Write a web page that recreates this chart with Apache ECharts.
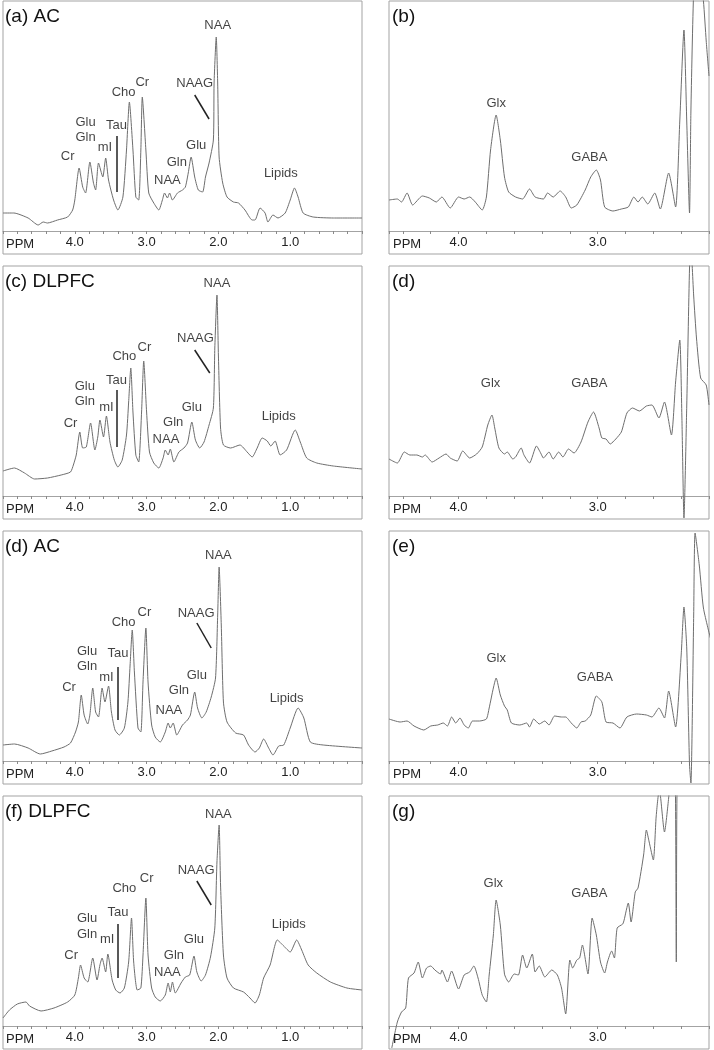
<!DOCTYPE html>
<html>
<head>
<meta charset="utf-8">
<script src="https://cdn.jsdelivr.net/npm/echarts@6/dist/echarts.min.js"></script>
<style>
  html, body { margin: 0; padding: 0; background: #fff; }
  #chart { width: 714px; height: 1050px; }
</style>
</head>
<body>
<div id="chart"></div>
<script>
// spectra: [ppm, intensity]
const specA = [[5.00,18],[4.85,18],[4.65,13],[4.51,6],[4.44,9],[4.38,8],[4.24,11],[4.10,14],[4.03,21],[4.00,31],[3.94,63],[3.89,44],[3.85,38],[3.79,69],[3.74,48],[3.71,41],[3.67,68],[3.61,54],[3.57,73],[3.53,51],[3.46,31],[3.40,21],[3.33,34],[3.28,81],[3.24,129],[3.19,81],[3.15,34],[3.11,31],[3.08,81],[3.06,134],[3.01,81],[2.97,38],[2.90,28],[2.83,21],[2.78,31],[2.75,38],[2.71,33],[2.68,38],[2.64,31],[2.57,38],[2.50,41],[2.46,44],[2.42,58],[2.38,74],[2.33,54],[2.28,41],[2.22,39],[2.18,54],[2.13,68],[2.07,91],[2.06,148],[2.03,194],[2.01,148],[1.99,74],[1.94,48],[1.88,34],[1.79,29],[1.72,28],[1.63,21],[1.53,11],[1.49,11],[1.42,23],[1.35,18],[1.31,9],[1.24,16],[1.17,13],[1.07,18],[1.00,31],[0.94,43],[0.89,34],[0.82,18],[0.68,14],[0.40,13],[0.00,13]];

const specB = [[4.50,31],[4.44,32],[4.41,29],[4.37,38],[4.33,26],[4.26,35],[4.21,33],[4.16,29],[4.12,34],[4.06,23],[4.00,34],[3.96,32],[3.92,34],[3.88,29],[3.83,21],[3.80,34],[3.77,81],[3.73,116],[3.70,91],[3.67,54],[3.64,39],[3.59,34],[3.54,32],[3.49,42],[3.45,34],[3.39,32],[3.36,38],[3.32,34],[3.27,40],[3.23,34],[3.19,23],[3.15,26],[3.09,41],[3.05,54],[3.01,61],[2.98,51],[2.95,24],[2.89,20],[2.83,22],[2.78,24],[2.74,34],[2.71,29],[2.68,34],[2.64,27],[2.59,38],[2.55,22],[2.49,58],[2.44,24],[2.41,110],[2.38,201],[2.36,110],[2.34,18],[2.33,120],[2.31,240],[2.29,262],[2.26,250],[2.24,230],[2.22,190],[2.20,155]];

const specC = [[5.00,25],[4.84,28],[4.70,23],[4.56,17],[4.38,18],[4.19,21],[4.06,24],[4.02,31],[3.98,41],[3.93,64],[3.89,48],[3.84,49],[3.78,73],[3.72,46],[3.68,59],[3.65,76],[3.60,59],[3.56,80],[3.51,54],[3.45,36],[3.40,29],[3.34,36],[3.28,61],[3.25,94],[3.22,128],[3.19,84],[3.15,41],[3.11,34],[3.07,84],[3.04,135],[3.00,84],[2.96,44],[2.90,33],[2.83,28],[2.77,38],[2.74,46],[2.70,41],[2.67,47],[2.62,34],[2.55,44],[2.48,48],[2.43,53],[2.37,74],[2.32,56],[2.26,48],[2.20,54],[2.13,71],[2.07,88],[2.05,148],[2.02,201],[2.00,141],[1.97,68],[1.93,51],[1.83,48],[1.70,51],[1.60,44],[1.53,39],[1.46,48],[1.39,58],[1.32,55],[1.27,50],[1.21,55],[1.14,41],[1.05,46],[0.93,66],[0.86,54],[0.77,38],[0.63,33],[0.40,30],[0.00,27]];

const specDR = [[4.50,37],[4.44,33],[4.39,44],[4.35,41],[4.30,41],[4.26,39],[4.24,41],[4.19,34],[4.14,38],[4.09,42],[4.06,38],[4.01,35],[3.97,45],[3.92,38],[3.87,42],[3.83,49],[3.79,71],[3.76,81],[3.74,68],[3.71,48],[3.67,42],[3.65,44],[3.61,37],[3.59,39],[3.55,48],[3.53,41],[3.49,33],[3.44,50],[3.41,43],[3.39,38],[3.35,44],[3.32,37],[3.28,44],[3.25,39],[3.21,47],[3.17,43],[3.12,54],[3.07,74],[3.03,84],[2.99,68],[2.97,58],[2.94,57],[2.91,52],[2.87,57],[2.83,64],[2.79,83],[2.75,88],[2.70,85],[2.65,90],[2.61,91],[2.56,78],[2.52,94],[2.47,61],[2.44,114],[2.41,156],[2.395,80],[2.38,-22],[2.36,90],[2.34,228],[2.33,248],[2.31,200],[2.29,158],[2.26,118],[2.22,111],[2.20,91]];

const specD = [[5.00,16],[4.84,17],[4.65,13],[4.48,7],[4.32,10],[4.15,14],[4.06,18],[3.99,29],[3.95,39],[3.91,66],[3.87,46],[3.82,37],[3.79,46],[3.75,73],[3.71,49],[3.67,44],[3.62,73],[3.58,59],[3.53,75],[3.49,49],[3.44,31],[3.38,26],[3.31,33],[3.26,59],[3.23,96],[3.20,131],[3.17,89],[3.12,33],[3.08,29],[3.05,79],[3.01,133],[2.98,79],[2.93,36],[2.88,24],[2.81,19],[2.74,29],[2.70,38],[2.67,33],[2.63,38],[2.58,26],[2.50,36],[2.43,41],[2.39,46],[2.33,69],[2.29,53],[2.23,43],[2.17,49],[2.10,64],[2.04,83],[2.01,146],[1.99,194],[1.96,136],[1.93,59],[1.88,39],[1.76,28],[1.65,26],[1.58,16],[1.49,9],[1.43,13],[1.37,22],[1.30,13],[1.24,6],[1.16,15],[1.09,16],[1.00,33],[0.89,53],[0.81,43],[0.72,19],[0.54,16],[0.00,13]];

const specE = [[4.50,42],[4.42,39],[4.37,40],[4.32,35],[4.25,31],[4.20,35],[4.15,36],[4.11,38],[4.08,35],[4.05,44],[4.02,38],[3.99,43],[3.96,36],[3.93,33],[3.90,40],[3.85,40],[3.80,42],[3.78,53],[3.75,73],[3.73,83],[3.70,66],[3.67,55],[3.65,51],[3.62,38],[3.56,36],[3.51,38],[3.49,34],[3.46,42],[3.42,37],[3.38,40],[3.35,36],[3.31,45],[3.26,44],[3.23,44],[3.19,38],[3.15,33],[3.12,39],[3.09,40],[3.05,46],[3.01,65],[2.97,59],[2.94,39],[2.89,38],[2.84,33],[2.79,44],[2.72,47],[2.65,46],[2.61,44],[2.56,53],[2.52,43],[2.49,70],[2.44,34],[2.40,106],[2.38,154],[2.36,113],[2.34,-4],[2.33,-22],[2.31,146],[2.30,228],[2.27,196],[2.24,153],[2.19,123]];

const specF = [[5.00,8],[4.91,16],[4.80,22],[4.68,24],[4.63,20],[4.47,15],[4.29,18],[4.10,24],[4.00,31],[3.95,48],[3.92,61],[3.87,48],[3.82,44],[3.75,68],[3.69,46],[3.65,61],[3.62,68],[3.57,54],[3.54,72],[3.48,46],[3.43,36],[3.37,33],[3.31,38],[3.25,64],[3.21,108],[3.18,64],[3.13,36],[3.08,38],[3.05,71],[3.01,128],[2.98,71],[2.93,38],[2.88,29],[2.81,25],[2.74,31],[2.70,43],[2.67,34],[2.64,44],[2.60,33],[2.52,43],[2.46,49],[2.40,51],[2.34,70],[2.30,54],[2.24,45],[2.18,51],[2.11,69],[2.05,98],[2.02,164],[1.99,201],[1.97,141],[1.93,71],[1.88,48],[1.79,38],[1.65,34],[1.56,28],[1.49,23],[1.43,31],[1.37,48],[1.28,61],[1.18,86],[1.09,80],[1.00,74],[0.91,86],[0.84,76],[0.75,61],[0.63,53],[0.44,44],[0.21,38],[0.00,36]];

const specG = [[4.48,-22],[4.44,4],[4.41,14],[4.38,18],[4.36,48],[4.32,53],[4.29,64],[4.26,48],[4.23,58],[4.20,60],[4.17,56],[4.13,52],[4.12,56],[4.08,44],[4.05,55],[4.00,37],[3.96,51],[3.92,54],[3.89,60],[3.86,48],[3.83,31],[3.80,24],[3.78,51],[3.75,91],[3.73,126],[3.70,101],[3.67,52],[3.64,44],[3.60,52],[3.57,51],[3.54,71],[3.51,58],[3.47,72],[3.45,54],[3.42,60],[3.38,49],[3.33,56],[3.29,51],[3.26,38],[3.23,12],[3.20,66],[3.18,58],[3.15,66],[3.13,68],[3.11,81],[3.07,52],[3.04,108],[3.01,91],[2.98,64],[2.95,53],[2.93,64],[2.90,75],[2.88,68],[2.86,98],[2.82,102],[2.81,106],[2.78,123],[2.76,104],[2.73,134],[2.71,138],[2.67,171],[2.65,196],[2.63,184],[2.60,166],[2.58,209],[2.56,233],[2.55,231],[2.52,194],[2.49,228],[2.47,260],[2.445,260],[2.435,64],[2.425,260],[2.20,260]];

// peak labels: [ppm, height, text]
const notesA = [[2.01,206,'NAA'],[2.33,148,'NAAG'],[3.06,149,'Cr'],[3.32,139,'Cho'],[3.42,106,'Tau'],[3.85,109,'Glu'],[3.85,94,'Gln'],[3.58,84,'mI'],[4.10,75,'Cr'],[2.71,51,'NAA'],[2.58,69,'Gln'],[2.31,86,'Glu'],[1.13,58,'Lipids']];
const notesC = [[2.02,213,'NAA'],[2.32,158,'NAAG'],[3.03,149,'Cr'],[3.31,140,'Cho'],[3.42,116,'Tau'],[3.86,110,'Glu'],[3.86,95,'Gln'],[3.56,89,'mI'],[4.06,73,'Cr'],[2.73,57,'NAA'],[2.63,74,'Gln'],[2.37,89,'Glu'],[1.16,80,'Lipids']];
const notesD = [[2.00,206,'NAA'],[2.31,148,'NAAG'],[3.03,149,'Cr'],[3.32,139,'Cho'],[3.40,108,'Tau'],[3.83,110,'Glu'],[3.83,95,'Gln'],[3.56,84,'mI'],[4.08,74,'Cr'],[2.69,51,'NAA'],[2.55,71,'Gln'],[2.30,86,'Glu'],[1.05,63,'Lipids']];
const notesF = [[2.00,212,'NAA'],[2.31,156,'NAAG'],[3.00,148,'Cr'],[3.31,138,'Cho'],[3.40,114,'Tau'],[3.83,108,'Glu'],[3.83,92,'Gln'],[3.55,87,'mI'],[4.05,71,'Cr'],[2.71,54,'NAA'],[2.62,71,'Gln'],[2.34,87,'Glu'],[1.02,102,'Lipids']];
const notesB = [[3.73,128,'Glx'],[3.06,74,'GABA']];
const notesDR = [[3.77,113,'Glx'],[3.06,113,'GABA']];
const notesE = [[3.73,103,'Glx'],[3.02,84,'GABA']];
const notesG = [[3.75,143,'Glx'],[3.06,133,'GABA']];

// pointer lines (NAAG slash, Tau bar)
const linesA = [[[2.33,136],[2.13,112]],[[3.42,95],[3.42,39]]];
const linesC = [[[2.33,146],[2.12,123]],[[3.42,106],[3.42,49]]];
const linesD = [[[2.30,138],[2.10,113]],[[3.40,94],[3.40,41]]];
const linesF = [[[2.30,145],[2.10,121]],[[3.40,102],[3.40,48]]];

const panels = [
  { title: '(a) AC',    side: 'L', row: 0, spec: specA,  notes: notesA,  lines: linesA },
  { title: '(b)',       side: 'R', row: 0, spec: specB,  notes: notesB,  lines: [] },
  { title: '(c) DLPFC', side: 'L', row: 1, spec: specC,  notes: notesC,  lines: linesC },
  { title: '(d)',       side: 'R', row: 1, spec: specDR, notes: notesDR, lines: [] },
  { title: '(d) AC',    side: 'L', row: 2, spec: specD,  notes: notesD,  lines: linesD },
  { title: '(e)',       side: 'R', row: 2, spec: specE,  notes: notesE,  lines: [] },
  { title: '(f) DLPFC', side: 'L', row: 3, spec: specF,  notes: notesF,  lines: linesF },
  { title: '(g)',       side: 'R', row: 3, spec: specG,  notes: notesG,  lines: [] }
];

const rowTops = [1, 266, 531, 796];
const FONT = '"Liberation Sans", Arial, Helvetica, sans-serif';
const frameColor = '#a3a3a3';

const grids = [], xAxes = [], yAxes = [], series = [], graphics = [];

panels.forEach((p, i) => {
  const left = p.side === 'L' ? 2 : 389;
  const width = p.side === 'L' ? 360 : 320;
  const top = rowTops[p.row];

  grids.push({
    left: left, top: top, width: width, height: 253,
    containLabel: false,
    show: true, borderColor: frameColor, borderWidth: 1
  });

  // axis sits 23px above the box bottom (value 0 of the hidden y axis)
  xAxes.push({
    gridIndex: i,
    type: 'value',
    position: 'bottom',
    offset: -23,
    inverse: true,
    min: p.side === 'L' ? 0 : 2.2,
    max: p.side === 'L' ? 5 : 4.5,
    interval: 0.2,
    axisLine: { show: true, onZero: false, lineStyle: { color: frameColor, width: 1 } },
    axisTick: { show: true, inside: false, length: 3, lineStyle: { color: '#8a8a8a' } },
    axisLabel: {
      interval: 0,
      margin: 5,
      fontSize: 13,
      fontFamily: FONT,
      color: '#222',
      formatter: function (v) {
        const r = Math.round(v)
        return (Math.abs(v - r) < 1e-6 && r >= 1 && r <= 4) ? r.toFixed(1) : ''
      }
    },
    splitLine: { show: false }
  });

  yAxes.push({ gridIndex: i, type: 'value', min: -23, max: 230, show: false });

  series.push({
    type: 'line',
    xAxisIndex: i,
    yAxisIndex: i,
    data: p.spec,
    symbol: 'none',
    showSymbol: false,
    smooth: 0.2,
    clip: true,
    lineStyle: { color: '#6e6e6e', width: 1 },
    silent: true,
    animation: false,
    z: 3
  });

  series.push({
    type: 'scatter',
    xAxisIndex: i,
    yAxisIndex: i,
    data: p.notes.map(n => ({ value: [n[0], n[1]], name: n[2] })),
    symbolSize: 1,
    itemStyle: { color: 'rgba(0,0,0,0)' },
    label: {
      show: true,
      position: 'inside',
      formatter: '{b}',
      fontSize: 13,
      fontFamily: FONT,
      color: '#111'
    },
    markLine: {
      silent: true,
      animation: false,
      symbol: ['none', 'none'],
      label: { show: false },
      lineStyle: { color: '#222', width: 1.5, type: 'solid' },
      data: p.lines.map(l => [{ coord: l[0] }, { coord: l[1] }])
    },
    silent: true,
    animation: false,
    z: 4
  });

  graphics.push({
    type: 'text',
    left: left + 3,
    top: top + 6,
    z: 10,
    style: { text: p.title, fontSize: 19, fontFamily: FONT, fill: '#111' }
  });
  graphics.push({
    type: 'text',
    left: left + 4,
    top: top + 237,
    z: 10,
    style: { text: 'PPM', fontSize: 13, fontFamily: FONT, fill: '#222' }
  });
});

const chart = echarts.init(document.getElementById('chart'), null, { renderer: 'canvas' });
chart.setOption({
  backgroundColor: '#fff',
  animation: false,
  grid: grids,
  xAxis: xAxes,
  yAxis: yAxes,
  series: series,
  graphic: graphics
});
</script>
</body>
</html>
